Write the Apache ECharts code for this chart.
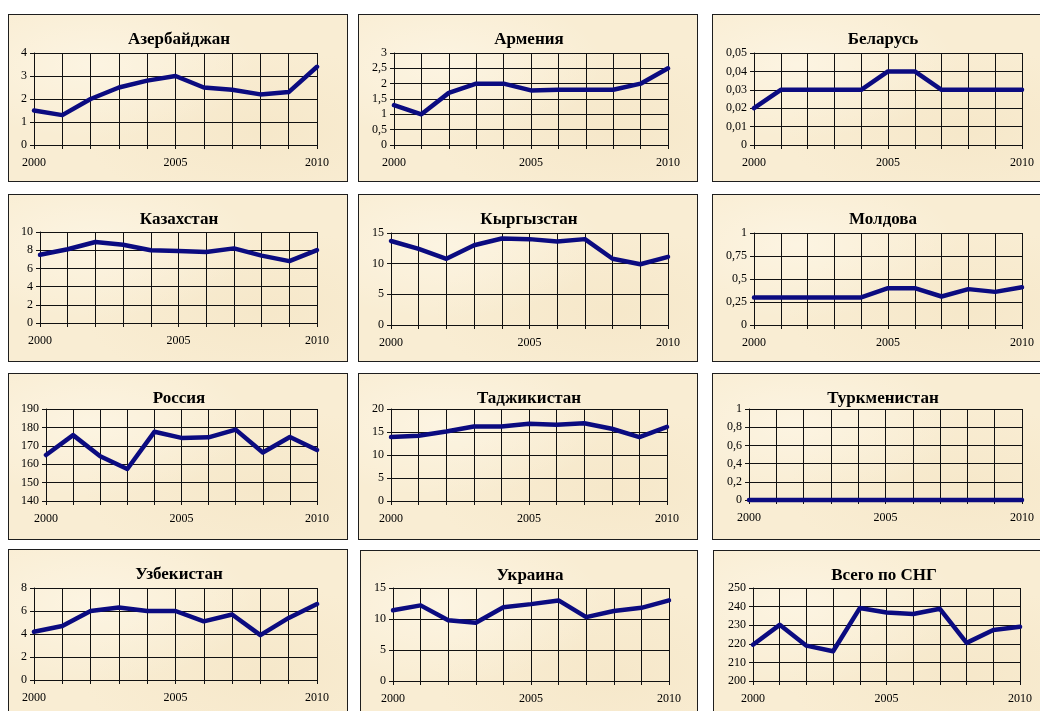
<!DOCTYPE html>
<html>
<head>
<meta charset="utf-8">
<script src="https://cdn.jsdelivr.net/npm/echarts@6/dist/echarts.min.js"></script>
<style>
  html, body { margin: 0; padding: 0; background: #ffffff; width: 1040px; height: 711px; overflow: hidden; }
  .panel {
    position: absolute;
    box-sizing: border-box;
    border: 1px solid #1e1e1e;
    background-color: #f9edd3;
    background-image:
      radial-gradient(ellipse at 25% 30%, rgba(255,250,238,0.55) 0%, rgba(255,250,238,0) 45%),
      radial-gradient(ellipse at 75% 70%, rgba(240,222,185,0.35) 0%, rgba(240,222,185,0) 50%);
  }
</style>
</head>
<body>
<script>
// Years on the horizontal axis
const years = ['2000', '2001', '2002', '2003', '2004', '2005', '2006', '2007', '2008', '2009', '2010'];

// Values per country, 2000–2010
const azerbaijan = [1.5, 1.3, 2.0, 2.5, 2.8, 3.0, 2.5, 2.4, 2.2, 2.3, 3.4];
const armenia    = [1.3, 1.0, 1.7, 2.0, 2.0, 1.78, 1.8, 1.8, 1.8, 2.0, 2.5];
const belarus    = [0.02, 0.03, 0.03, 0.03, 0.03, 0.04, 0.04, 0.03, 0.03, 0.03, 0.03];
const kazakhstan = [7.5, 8.1, 8.9, 8.6, 8.0, 7.9, 7.8, 8.2, 7.4, 6.8, 8.0];
const kyrgyzstan = [13.7, 12.4, 10.8, 13.0, 14.1, 14.0, 13.6, 14.0, 10.8, 9.9, 11.1];
const moldova    = [0.3, 0.3, 0.3, 0.3, 0.3, 0.4, 0.4, 0.31, 0.39, 0.36, 0.41];
const russia     = [165.0, 175.8, 164.3, 157.4, 177.6, 174.3, 174.6, 178.8, 166.4, 174.8, 167.7];
const tajikistan = [13.9, 14.2, 15.1, 16.2, 16.2, 16.8, 16.6, 16.9, 15.7, 13.9, 16.1];
const turkmenistan = [0, 0, 0, 0, 0, 0, 0, 0, 0, 0, 0];
const uzbekistan = [4.2, 4.7, 6.0, 6.3, 6.0, 6.0, 5.1, 5.7, 3.9, 5.4, 6.6];
const ukraine    = [11.4, 12.2, 9.8, 9.4, 11.9, 12.4, 13.0, 10.3, 11.3, 11.8, 13.0];
const cisTotal   = [219.5, 230.2, 219.0, 216.0, 239.2, 236.8, 236.0, 238.8, 220.5, 227.4, 229.2];

const titles = ['Азербайджан', 'Армения', 'Беларусь', 'Казахстан', 'Кыргызстан', 'Молдова',
                'Россия', 'Таджикистан', 'Туркменистан', 'Узбекистан', 'Украина', 'Всего по СНГ'];
const seriesData = [azerbaijan, armenia, belarus, kazakhstan, kyrgyzstan, moldova,
                    russia, tajikistan, turkmenistan, uzbekistan, ukraine, cisTotal];

// Value-axis ranges and tick steps
const yMin  = [0, 0, 0, 0, 0, 0, 140, 0, 0, 0, 0, 200];
const yMax  = [4, 3, 0.05, 10, 15, 1, 190, 20, 1, 8, 15, 250];
const yStep = [1, 0.5, 0.01, 2, 5, 0.25, 10, 5, 0.2, 2, 5, 10];

// Panel frames [x, y, w, h] and plot rectangles [x1, y1, x2, y2] in page pixels
const frames = [
  [8, 14, 340, 168], [358, 14, 340, 168], [712, 14, 340, 168],
  [8, 194, 340, 168], [358, 194, 340, 168], [712, 194, 340, 168],
  [8, 373, 340, 167], [358, 373, 340, 167], [712, 373, 340, 167],
  [8, 549, 340, 180], [360, 550, 338, 180], [713, 550, 340, 180]
];
const plots = [
  [34, 53, 317, 145], [394, 53, 668, 145], [754, 53, 1022, 145],
  [40, 232, 317, 323], [391, 233, 668, 325], [754, 233, 1022, 325],
  [46, 409, 317, 501], [391, 409, 667, 501], [749, 409, 1022, 500],
  [34, 588, 317, 680], [393, 588, 669, 681], [753, 588, 1020, 681]
];

const FONT = '"Liberation Serif", "Times New Roman", serif';
const GRID_COLOR = '#111111';

function fmt(v) {
  return String(+v.toFixed(4)).replace('.', ',');
}

titles.forEach(function (name, i) {
  const f = frames[i], p = plots[i];
  const div = document.createElement('div');
  div.className = 'panel';
  div.style.left = f[0] + 'px';
  div.style.top = f[1] + 'px';
  div.style.width = f[2] + 'px';
  div.style.height = f[3] + 'px';
  document.body.appendChild(div);

  const chart = echarts.init(div, null, { renderer: 'canvas', width: f[2], height: f[3] });
  chart.setOption({
    animation: false,
    backgroundColor: 'transparent',
    title: {
      text: name,
      left: 'center',
      top: 16,
      padding: 0,
      textStyle: { fontFamily: FONT, fontWeight: 'bold', fontSize: 17, color: '#000' }
    },
    grid: {
      left: p[0] - f[0] - 1,
      top: p[1] - f[1] - 1,
      width: p[2] - p[0],
      height: p[3] - p[1],
      containLabel: false
    },
    xAxis: {
      type: 'category',
      data: years,
      boundaryGap: false,
      axisLine: { show: true, lineStyle: { color: GRID_COLOR, width: 1 } },
      axisTick: { show: true, interval: 0, length: 4, lineStyle: { color: GRID_COLOR } },
      axisLabel: {
        interval: function (idx) { return idx % 5 === 0; },
        fontFamily: FONT, fontSize: 12, color: '#000', margin: 12
      },
      splitLine: { show: true, interval: 0, lineStyle: { color: GRID_COLOR, width: 1 } }
    },
    yAxis: {
      type: 'value',
      min: yMin[i],
      max: yMax[i],
      interval: yStep[i],
      axisLine: { show: true, lineStyle: { color: GRID_COLOR, width: 1 } },
      axisTick: { show: true, length: 4, lineStyle: { color: GRID_COLOR } },
      axisLabel: { formatter: fmt, fontFamily: FONT, fontSize: 12, color: '#000', margin: 7 },
      splitLine: { show: true, lineStyle: { color: GRID_COLOR, width: 1 } }
    },
    series: [{
      type: 'line',
      data: seriesData[i],
      symbol: 'none',
      clip: false,
      lineStyle: { color: '#0b0b80', width: 4.5, join: 'round', cap: 'round' },
      z: 5
    }]
  });
});
</script>
</body>
</html>
